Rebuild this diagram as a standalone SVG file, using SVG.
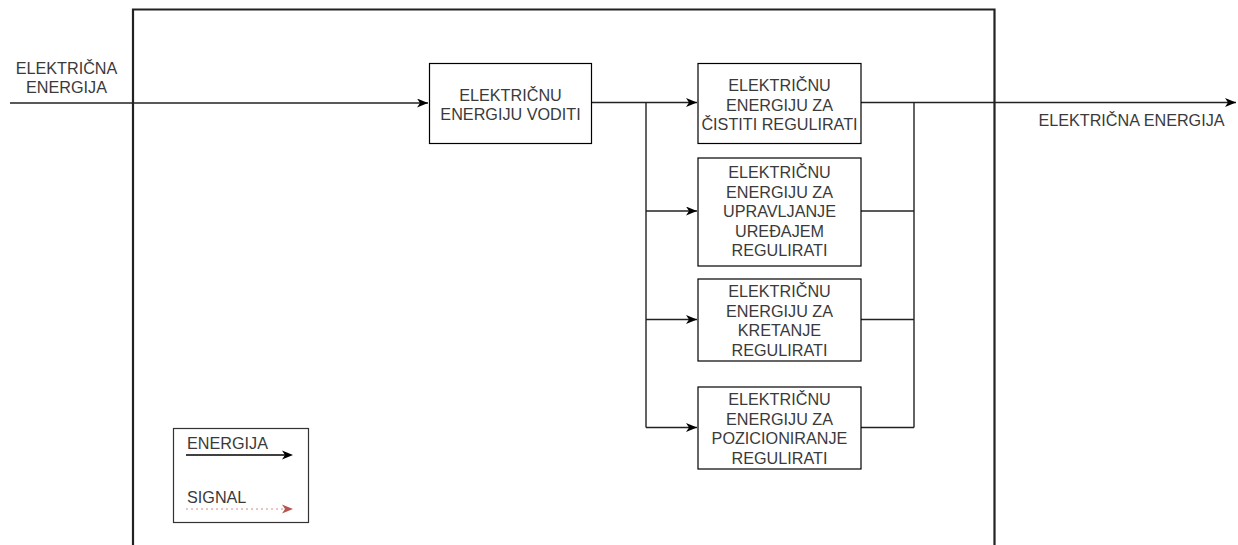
<svg xmlns="http://www.w3.org/2000/svg" width="1238" height="545" viewBox="0 0 1238 545">
<defs>
<marker id="ah" markerWidth="11" markerHeight="9" refX="11" refY="4.5" orient="auto" markerUnits="userSpaceOnUse">
<path d="M0,0 L11,4.5 L0,9 L3,4.5 Z" fill="#000"/>
</marker>
<style>
text{font-family:"Liberation Sans",Arial,sans-serif;font-size:16.2px;fill:#3a3a3a;}
.c{text-anchor:middle;}
.box{fill:#fff;stroke:#000;stroke-width:1.2;}
.ln{fill:none;stroke:#222;stroke-width:1.4;}
</style>
</defs>
<rect width="1238" height="545" fill="#fff"/>
<g id="frame">
<path d="M133,560 L133,9.5 L994.5,9.5 L994.5,560" fill="none" stroke="#222" stroke-width="2.2"/>
</g>
<g id="connectors">
<line class="ln" x1="10" y1="103" x2="428" y2="103" marker-end="url(#ah)"/>
<line class="ln" x1="591" y1="102.5" x2="697" y2="102.5" marker-end="url(#ah)"/>
<path class="ln" d="M646,102.5 L646,427.5"/>
<line class="ln" x1="646" y1="211" x2="697" y2="211" marker-end="url(#ah)"/>
<line class="ln" x1="646" y1="319.5" x2="697" y2="319.5" marker-end="url(#ah)"/>
<line class="ln" x1="646" y1="427.5" x2="697" y2="427.5" marker-end="url(#ah)"/>
<line class="ln" x1="861" y1="102.5" x2="1236" y2="102.5" marker-end="url(#ah)"/>
<path class="ln" d="M914,102.5 L914,427.5"/>
<line class="ln" x1="861" y1="211" x2="914" y2="211"/>
<line class="ln" x1="861" y1="319.5" x2="914" y2="319.5"/>
<line class="ln" x1="861" y1="427.5" x2="914" y2="427.5"/>
</g>
<g id="label-in">
<text class="c" x="66.5" y="74">ELEKTRIČNA</text>
<text class="c" x="66.5" y="93">ENERGIJA</text>
</g>
<g id="label-out">
<text class="c" x="1131.5" y="126">ELEKTRIČNA ENERGIJA</text>
</g>
<g id="node-voditi">
<rect class="box" x="429.5" y="63.5" width="162" height="80"/>
<text class="c" x="510.5" y="101">ELEKTRIČNU</text>
<text class="c" x="510.5" y="120">ENERGIJU VODITI</text>
</g>
<g id="node-cistiti">
<rect class="box" x="698" y="63.5" width="163" height="80"/>
<text class="c" x="779.5" y="91">ELEKTRIČNU</text>
<text class="c" x="779.5" y="110.5">ENERGIJU ZA</text>
<text class="c" x="779.5" y="130">ČISTITI REGULIRATI</text>
</g>
<g id="node-upravljanje">
<rect class="box" x="698" y="158" width="163" height="108"/>
<text class="c" x="779.5" y="178">ELEKTRIČNU</text>
<text class="c" x="779.5" y="197.5">ENERGIJU ZA</text>
<text class="c" x="779.5" y="217">UPRAVLJANJE</text>
<text class="c" x="779.5" y="236.5">UREĐAJEM</text>
<text class="c" x="779.5" y="256">REGULIRATI</text>
</g>
<g id="node-kretanje">
<rect class="box" x="698" y="279" width="163" height="82"/>
<text class="c" x="779.5" y="297">ELEKTRIČNU</text>
<text class="c" x="779.5" y="316.5">ENERGIJU ZA</text>
<text class="c" x="779.5" y="336">KRETANJE</text>
<text class="c" x="779.5" y="355.5">REGULIRATI</text>
</g>
<g id="node-pozicioniranje">
<rect class="box" x="698" y="387" width="163" height="82"/>
<text class="c" x="779.5" y="405">ELEKTRIČNU</text>
<text class="c" x="779.5" y="424.5">ENERGIJU ZA</text>
<text class="c" x="779.5" y="444">POZICIONIRANJE</text>
<text class="c" x="779.5" y="463.5">REGULIRATI</text>
</g>
<g id="legend">
<rect x="173.5" y="428.5" width="135" height="94" fill="#fff" stroke="#333" stroke-width="1.2"/>
<text x="187" y="449">ENERGIJA</text>
<line x1="186" y1="455" x2="285" y2="455" stroke="#000" stroke-width="1.3"/>
<path d="M282,450.5 L293,455 L282,459.5 L285,455 Z" fill="#000"/>
<text x="187" y="503">SIGNAL</text>
<line x1="186" y1="509" x2="285" y2="509" stroke="#d08b88" stroke-width="1.2" stroke-dasharray="2,3"/>
<path d="M282,504.5 L293,509 L282,513.5 L285,509 Z" fill="#b85450"/>
</g>
</svg>
